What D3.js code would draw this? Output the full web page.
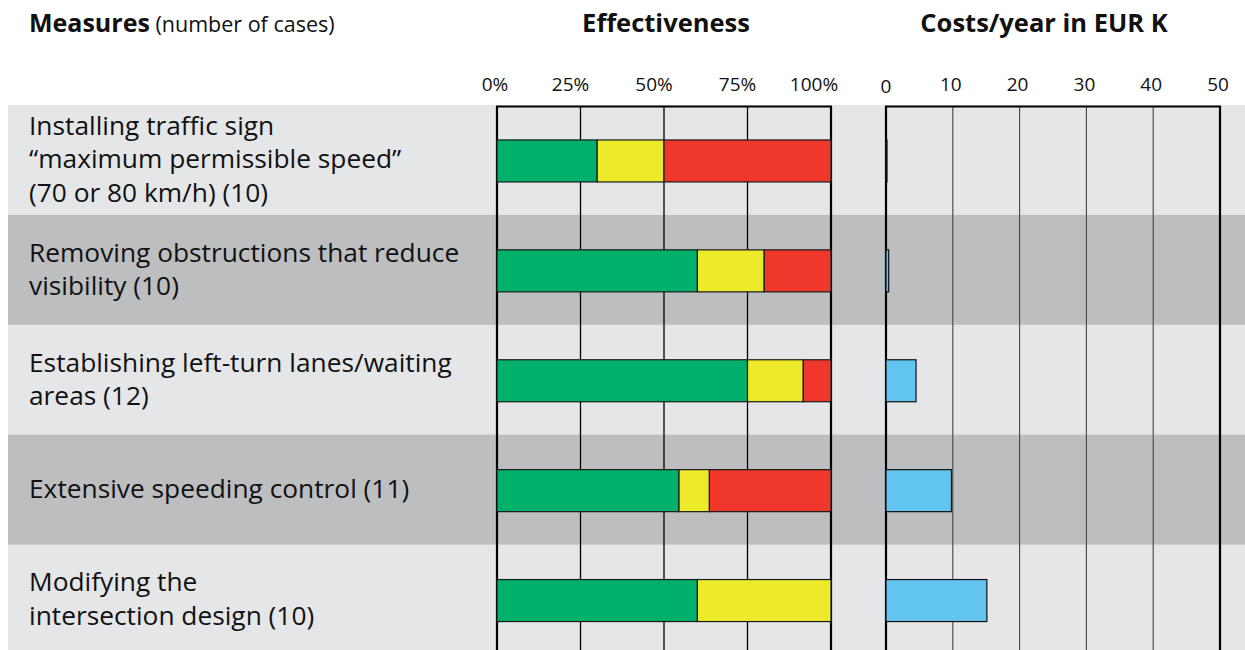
<!DOCTYPE html>
<html><head><meta charset="utf-8">
<script src="https://cdn.jsdelivr.net/npm/d3@7"></script>
<style>body{margin:0;background:#fff}svg{display:block}text{font-family:"Open Sans",sans-serif;fill:#111}</style>
</head><body><svg id="c" width="1245" height="650"></svg>
<script>
const categories = [
  ["Installing traffic sign", "\u201Cmaximum permissible speed\u201D", "(70 or 80 km/h) (10)"],
  ["Removing obstructions that reduce", "visibility (10)"],
  ["Establishing left-turn lanes/waiting", "areas (12)"],
  ["Extensive speeding control (11)"],
  ["Modifying the", "intersection design (10)"]
];
const positive = [30, 60, 75, 54.5, 60];
const neutral  = [20, 20, 16.7, 9.1, 40];
const negative = [50, 20, 8.3, 36.4, 0];
const costs    = [0.15, 0.4, 4.5, 9.8, 15.1];
const effTicks = [0, 25, 50, 75, 100];
const effTickLabels = ["0%", "25%", "50%", "75%", "100%"];
const costTicks = [0, 10, 20, 30, 40, 50];

const svg = d3.select("#c");
const idx = d3.range(categories.length);
const y = d3.scaleBand().domain(idx).range([105, 654.5]).paddingInner(0);
const xE = d3.scaleLinear().domain([0, 100]).range([497, 831]);
const xC = d3.scaleLinear().domain([0, 50]).range([886, 1220]);
const barH = 42;
const barY = i => y(i) + y.bandwidth() / 2 - barH / 2 + 1;

// bands
svg.selectAll("rect.band").data(idx).join("rect")
  .attr("x", 8).attr("width", 1245 - 8)
  .attr("y", i => y(i)).attr("height", y.bandwidth() + 0.5)
  .attr("fill", i => i % 2 ? "#bdbec0" : "#e5e6e8");

const gridTop = 106.5, gridBottom = 650;
// effectiveness grid
svg.selectAll("line.eg").data(effTicks).join("line")
  .attr("x1", d => xE(d)).attr("x2", d => xE(d)).attr("y1", gridTop).attr("y2", gridBottom)
  .attr("stroke", "#000").attr("stroke-width", d => (d === 0 || d === 100) ? 2.2 : 1.3);
svg.append("line").attr("x1", xE(0) - 1).attr("x2", xE(100) + 1).attr("y1", gridTop).attr("y2", gridTop)
  .attr("stroke", "#000").attr("stroke-width", 2.2);
// cost grid
svg.selectAll("line.cg").data(costTicks).join("line")
  .attr("x1", d => xC(d)).attr("x2", d => xC(d)).attr("y1", gridTop).attr("y2", gridBottom)
  .attr("stroke", d => (d === 0 || d === 50) ? "#000" : "#444")
  .attr("stroke-width", d => (d === 0 || d === 50) ? 2.2 : 1.1);
svg.append("line").attr("x1", xC(0) - 1).attr("x2", xC(50) + 1).attr("y1", gridTop).attr("y2", gridTop)
  .attr("stroke", "#000").attr("stroke-width", 2.2);

// stacked effectiveness bars
const series = [
  {vals: positive, color: "#00b06b"},
  {vals: neutral, color: "#ede92b"},
  {vals: negative, color: "#ef372c"}
];
idx.forEach(i => {
  let acc = 0;
  series.forEach(s => {
    const v = s.vals[i];
    if (v > 0) {
      svg.append("rect")
        .attr("x", xE(acc)).attr("width", xE(acc + v) - xE(acc))
        .attr("y", barY(i)).attr("height", barH)
        .attr("fill", s.color).attr("stroke", "#1a1a1a").attr("stroke-width", 1.2);
    }
    acc += v;
  });
});

// cost bars
svg.selectAll("rect.cost").data(idx).join("rect")
  .attr("x", xC(0)).attr("width", i => xC(costs[i]) - xC(0))
  .attr("y", barY).attr("height", barH)
  .attr("fill", "#62c5ef").attr("stroke", "#111").attr("stroke-width", 1.2);

// tick labels
svg.selectAll("text.et").data(effTicks).join("text")
  .attr("x", d => xE(d) - (d === 0 ? 2 : d === 100 ? 17 : 10)).attr("y", 91)
  .attr("text-anchor", "middle").attr("font-size", 19).text((d, i) => effTickLabels[i]);
svg.selectAll("text.ct").data(costTicks).join("text")
  .attr("x", d => xC(d) - (d === 0 ? 0 : 2)).attr("y", d => d === 0 ? 93 : 91)
  .attr("text-anchor", "middle").attr("font-size", 19).text(d => d);

// headers
const h = svg.append("text").attr("x", 29).attr("y", 32).attr("font-size", 25);
h.append("tspan").attr("font-weight", "bold").text("Measures");
h.append("tspan").attr("font-size", 21.5).text(" (number of cases)");
svg.append("text").attr("x", 666).attr("y", 32).attr("text-anchor", "middle")
  .attr("font-size", 25.5).attr("font-weight", "bold").text("Effectiveness");
svg.append("text").attr("x", 1044).attr("y", 32).attr("text-anchor", "middle")
  .attr("font-size", 25.5).attr("font-weight", "bold").text("Costs/year in EUR K");

// category labels
const lh = 33.5;
idx.forEach(i => {
  const lines = categories[i];
  const cy = y(i) + y.bandwidth() / 2;
  const first = cy - (lines.length - 1) * lh / 2 + 8.5;
  const t = svg.append("text").attr("x", 29).attr("font-size", 26.3);
  lines.forEach((ln, k) => t.append("tspan").attr("x", 29).attr("y", first + k * lh).text(ln));
});
</script></body></html>
